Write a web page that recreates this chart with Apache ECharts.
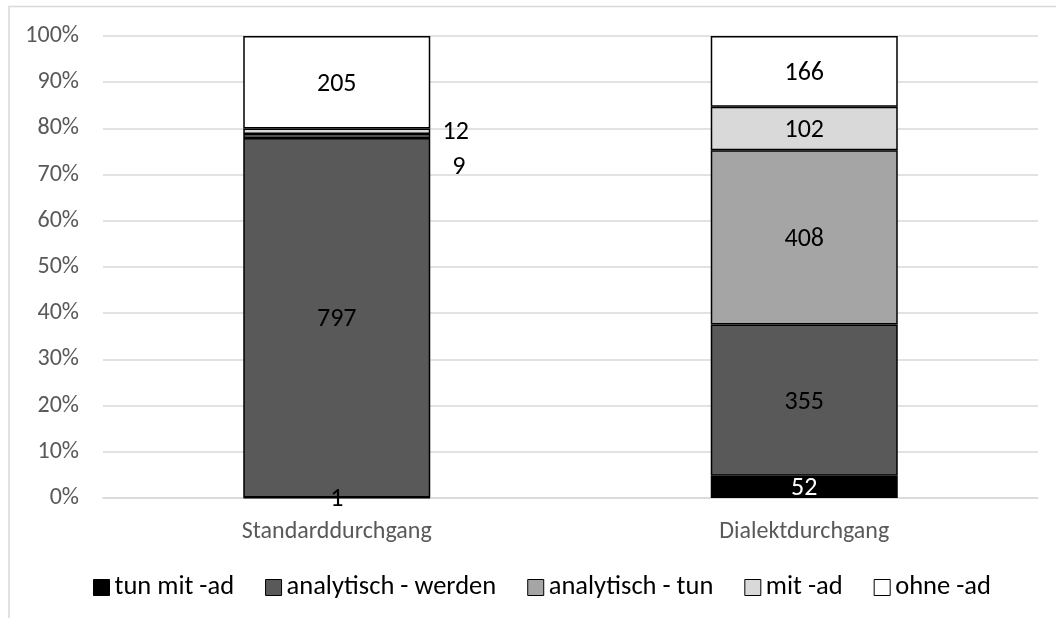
<!DOCTYPE html>
<html><head><meta charset="utf-8">
<script src="https://cdn.jsdelivr.net/npm/echarts@6/dist/echarts.min.js"></script>
<style>html,body{margin:0;padding:0;background:#fff}#c{width:1056px;height:618px}</style>
</head><body><div id="c"></div>
<script>
const categories = ['Standarddurchgang', 'Dialektdurchgang'];
const seriesNames = ['tun mit -ad', 'analytisch - werden', 'analytisch - tun', 'mit -ad', 'ohne -ad'];
const tunMitAd = [1, 52];
const analytischWerden = [797, 355];
const analytischTun = [9, 408];
const mitAd = [12, 102];
const ohneAd = [205, 166];
const yTicks = ['0%','10%','20%','30%','40%','50%','60%','70%','80%','90%','100%'];

const counts = [tunMitAd, analytischWerden, analytischTun, mitAd, ohneAd];
const colors = ['#000000', '#595959', '#A5A5A5', '#D9D9D9', '#FFFFFF'];
const totals = categories.map((c, i) => counts.reduce((s, arr) => s + arr[i], 0));
const FONT = "Carlito, 'Open Sans', sans-serif";

const series = counts.map((arr, si) => ({
  name: seriesNames[si],
  type: 'bar',
  stack: 'total',
  barCategoryGap: '60%',
  itemStyle: { color: colors[si], borderColor: '#000', borderWidth: 1.5 },
  data: arr.map((v, ci) => {
    const d = { value: v / totals[ci] * 100, raw: v };
    if (si === 0 && ci === 1) d.label = { color: '#fff' };
    if (si === 3 && ci === 0) d.label = { offset: [119, 1] };
    if (si === 2 && ci === 0) d.label = { offset: [122, 32] };
    if (si === 0 && ci === 0) d.label = { offset: [0, 2] };
    return d;
  }),
  label: {
    show: true, position: 'inside', color: '#000',
    fontFamily: FONT, fontSize: 26, offset: [0, 2],
    formatter: p => p.data.raw
  }
}));

const chart = echarts.init(document.getElementById('c'));
chart.setOption({
  animation: false,
  graphic: [{ type: 'polyline', shape: { points: [[9, 618], [9, 6.5], [1056, 6.5]] }, style: { stroke: '#d9d9d9', lineWidth: 1.5, fill: null } }],
  grid: { left: 103, right: 18, top: 36, bottom: 120 },
  legend: {
    top: 569, left: 88, itemWidth: 16, itemHeight: 16, itemGap: 31,
    icon: 'rect',
    itemStyle: { borderColor: '#000', borderWidth: 1 },
    textStyle: { fontFamily: FONT, fontSize: 26.5, color: '#000' },
    data: seriesNames
  },
  xAxis: {
    type: 'category', data: categories,
    axisLine: { lineStyle: { color: '#d9d9d9', width: 1.5 } },
    axisTick: { show: false },
    axisLabel: { color: '#595959', fontFamily: FONT, fontSize: 24, margin: 22 }
  },
  yAxis: {
    type: 'value', min: 0, max: 100, interval: 10,
    axisLine: { show: false }, axisTick: { show: false },
    splitLine: { lineStyle: { color: '#d9d9d9', width: 1.5 } },
    axisLabel: { color: '#595959', fontFamily: FONT, fontSize: 24, margin: 24,
      formatter: v => yTicks[Math.round(v / 10)] }
  },
  series
});
</script></body></html>
